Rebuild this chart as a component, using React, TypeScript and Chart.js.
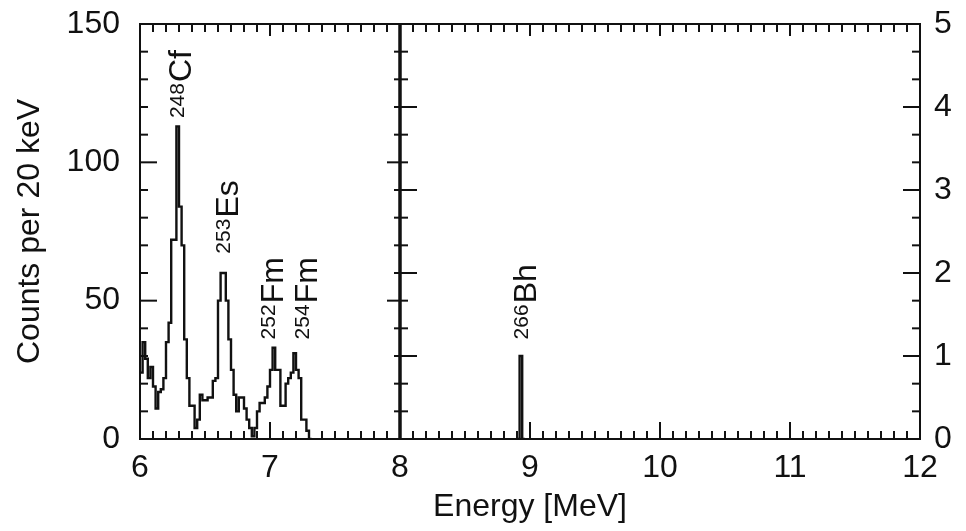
import React, { useEffect, useRef } from 'react';
import { Chart, registerables } from 'chart.js';

Chart.register(...registerables);

// ---- data ----
const binStart = 6.0; // MeV, first bin edge
const binWidth = 0.02; // MeV (20 keV bins)
const alphaCounts = [
  24, 35, 29, 22, 26, 19, 11, 17, 18, 22,
  35, 42, 72, 72, 113, 84, 70, 36, 22, 12,
  12, 4, 7, 16, 14, 14, 15, 15, 21, 22,
  50, 60, 60, 50, 36, 25, 16, 10, 15, 15,
  11, 7, 4, 1, 4, 10, 13, 13, 15, 19,
  25, 33, 25, 25, 12, 12, 20, 22, 24, 31,
  25, 22, 7, 7, 3, 0,
];
const bhBinStarts = [8.92];
const bhEvents = [1]; // right-hand scale

const xTickLabels = [6, 7, 8, 9, 10, 11, 12];
const leftTickLabels = [0, 50, 100, 150];
const rightTickLabels = [0, 1, 2, 3, 4, 5];

const isotopeMass = ['248', '253', '252', '254', '266'];
const isotopeSymbol = ['Cf', 'Es', 'Fm', 'Fm', 'Bh'];
const isotopeEnergy = [6.308, 6.665, 7.01, 7.27, 8.96];
const isotopeLabelBase = [116, 67, 36, 36, 36]; // counts (left scale) where label text starts

const FONT = "'Liberation Sans', Arial, Helvetica, sans-serif";
const INK = '#111111';

function buildHistogram(start: number, width: number, values: number[]) {
  const pts = values.map((v, i) => ({ x: +(start + i * width).toFixed(4), y: v }));
  pts.push({ x: +(start + values.length * width).toFixed(4), y: 0 });
  return pts;
}

function buildSparse(starts: number[], width: number, values: number[]) {
  const pts: { x: number; y: number }[] = [];
  starts.forEach((s, i) => {
    pts.push({ x: +(s - width).toFixed(4), y: 0 });
    pts.push({ x: s, y: values[i] });
    pts.push({ x: +(s + width).toFixed(4), y: 0 });
    pts.push({ x: +(s + 2 * width).toFixed(4), y: 0 });
  });
  return pts;
}

const framePlugin = {
  id: 'frameTicks',
  afterDatasetsDraw(chart: any) {
    const { ctx, chartArea, scales } = chart;
    const { left, right, top, bottom } = chartArea;
    const x = scales.x;
    const y = scales.y;
    const y2 = scales.y2;
    const seg = (x1: number, y1: number, x2: number, y2_: number) => {
      ctx.beginPath();
      ctx.moveTo(x1, y1);
      ctx.lineTo(x2, y2_);
      ctx.stroke();
    };
    ctx.save();
    ctx.strokeStyle = INK;
    ctx.lineWidth = 2;
    ctx.lineCap = 'butt';
    ctx.strokeRect(left, top, right - left, bottom - top);

    // x ticks: minor every 0.1 MeV, major every 1 MeV, inward top & bottom
    const xmin = x.min, xmax = x.max;
    const nx = Math.round((xmax - xmin) * 10);
    for (let k = 0; k <= nx; k++) {
      const px = x.getPixelForValue(xmin + k * 0.1);
      const major = k % 10 === 0;
      seg(px, bottom, px, bottom - (major ? 17 : 8));
      seg(px, top, px, top + (major ? 12 : 8));
    }
    // left y ticks: every 10 counts, major every 50
    for (let c = 0; c <= 150; c += 10) {
      const py = y.getPixelForValue(c);
      seg(left, py, left + (c % 50 === 0 ? 17 : 8), py);
    }
    // right y ticks: every 1/3 unit, major every unit
    for (let k = 0; k <= 15; k++) {
      const py = y2.getPixelForValue(k / 3);
      seg(right, py, right - (k % 3 === 0 ? 17 : 8), py);
    }
    // panel divider at 8 MeV
    const mx = x.getPixelForValue(8);
    ctx.lineWidth = 3.5;
    seg(mx, top, mx, bottom);
    ctx.lineWidth = 2;
    for (let c = 0; c <= 150; c += 10) {
      const py = y.getPixelForValue(c);
      seg(mx, py, mx - (c % 50 === 0 ? 13 : 6), py);
    }
    for (let k = 0; k <= 15; k++) {
      const py = y2.getPixelForValue(k / 3);
      seg(mx, py, mx + (k % 3 === 0 ? 17 : 8), py);
    }

    // isotope labels (rotated, with superscript mass number)
    const bigSize = 32;
    const supSize = 21;
    const capBig = bigSize * 0.716;
    const capSup = supSize * 0.716;
    ctx.fillStyle = INK;
    ctx.textBaseline = 'alphabetic';
    ctx.textAlign = 'left';
    for (let i = 0; i < isotopeMass.length; i++) {
      const px = x.getPixelForValue(isotopeEnergy[i]);
      const py = y.getPixelForValue(isotopeLabelBase[i]);
      ctx.save();
      ctx.translate(px, py);
      ctx.rotate(-Math.PI / 2);
      ctx.font = `${supSize}px ${FONT}`;
      const base = capBig / 2;
      ctx.fillText(isotopeMass[i], 0, base - (capBig - capSup));
      const w = ctx.measureText(isotopeMass[i]).width;
      ctx.font = `${bigSize}px ${FONT}`;
      ctx.fillText(isotopeSymbol[i], w + 1, base);
      ctx.restore();
    }
    ctx.restore();
  },
};

export default function App() {
  const ref = useRef<HTMLCanvasElement | null>(null);

  useEffect(() => {
    document.body.style.margin = '0';
    const canvas = ref.current;
    if (!canvas) return;
    const tickFont = { family: FONT, size: 32 };
    const titleFont = { family: FONT, size: 32, lineHeight: 1.2 };
    const fitV = (w: number) => (s: any) => {
      s.width = w;
      s.paddingTop = 0;
      s.paddingBottom = 0;
    };
    const chart = new Chart(canvas, {
      type: 'line',
      data: {
        datasets: [
          {
            data: buildHistogram(binStart, binWidth, alphaCounts),
            borderColor: INK,
            borderWidth: 2.4,
            stepped: 'before',
            pointRadius: 0,
            fill: false,
            yAxisID: 'y',
          },
          {
            data: buildSparse(bhBinStarts, binWidth, bhEvents),
            borderColor: INK,
            borderWidth: 2.4,
            stepped: 'before',
            pointRadius: 0,
            fill: false,
            yAxisID: 'y2',
          },
        ],
      },
      options: {
        animation: false,
        responsive: false,
        maintainAspectRatio: false,
        events: [],
        layout: { padding: { top: 24, left: 0, right: 0, bottom: 0 } },
        plugins: { legend: { display: false }, tooltip: { enabled: false } },
        scales: {
          x: {
            type: 'linear',
            min: xTickLabels[0],
            max: xTickLabels[xTickLabels.length - 1],
            grid: { display: false, drawTicks: false },
            border: { display: false },
            ticks: {
              stepSize: 1,
              color: INK,
              font: tickFont,
              padding: 10,
              maxRotation: 0,
              autoSkip: false,
            },
            title: {
              display: true,
              text: 'Energy [MeV]',
              color: INK,
              font: titleFont,
              padding: { top: 0, bottom: 5 },
            },
            afterFit: (s: any) => {
              s.height = 92;
              s.paddingLeft = 0;
              s.paddingRight = 0;
            },
          },
          y: {
            position: 'left',
            min: leftTickLabels[0],
            max: leftTickLabels[leftTickLabels.length - 1],
            grid: { display: false, drawTicks: false },
            border: { display: false },
            ticks: { stepSize: 50, color: INK, font: tickFont, padding: 20 },
            title: {
              display: true,
              text: 'Counts per 20 keV',
              color: INK,
              font: titleFont,
              padding: { top: 11, bottom: 0 },
            },
            afterFit: fitV(140),
          },
          y2: {
            position: 'right',
            min: rightTickLabels[0],
            max: rightTickLabels[rightTickLabels.length - 1],
            grid: { display: false, drawTicks: false },
            border: { display: false },
            ticks: { stepSize: 1, color: INK, font: tickFont, padding: 14 },
            afterFit: fitV(46),
          },
        },
      },
      plugins: [framePlugin],
    } as any);
    return () => chart.destroy();
  }, []);

  return (
    <div style={{ width: 966, height: 531, background: '#fff' }}>
      <canvas ref={ref} width={966} height={531} style={{ display: 'block' }} />
    </div>
  );
}
